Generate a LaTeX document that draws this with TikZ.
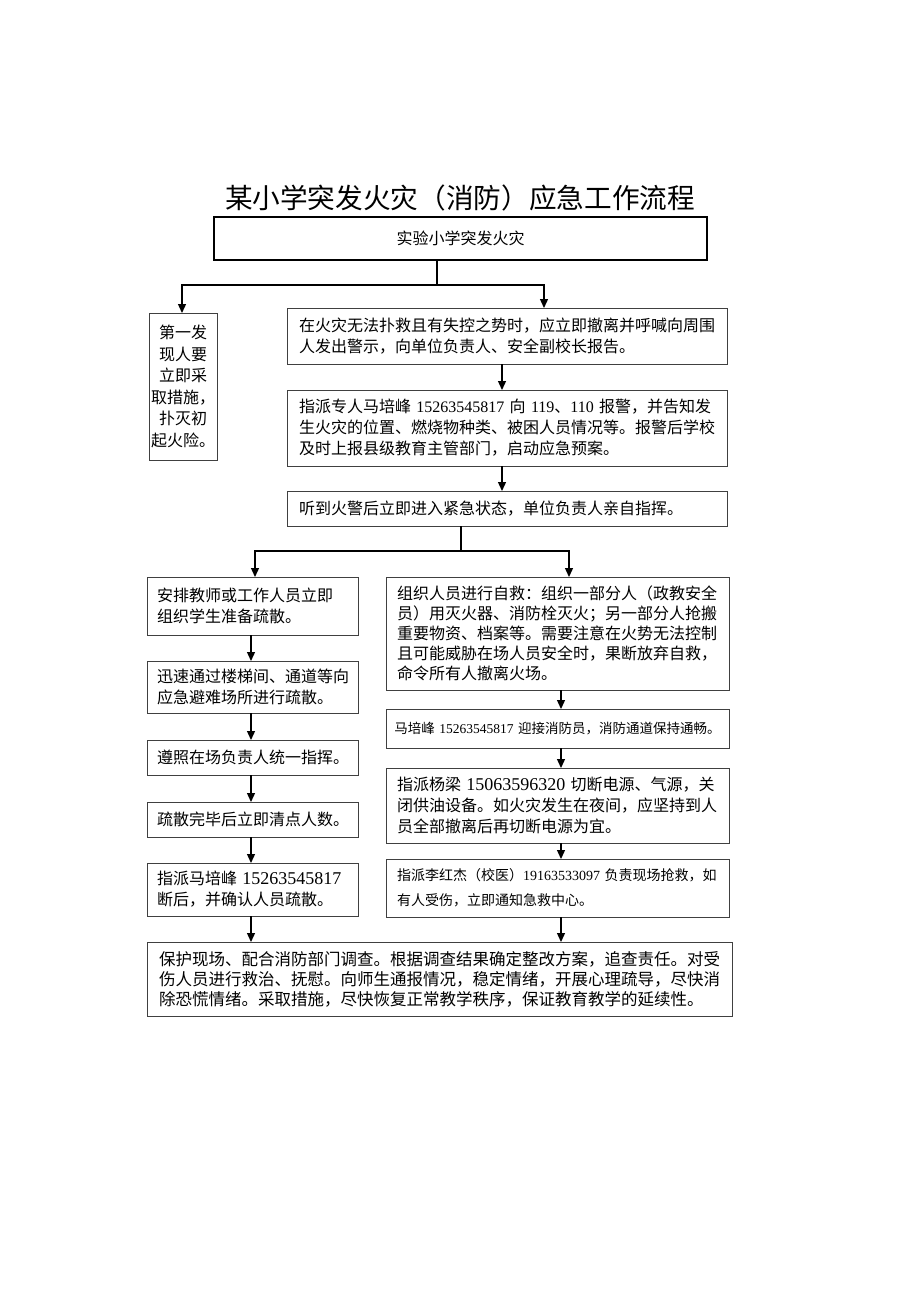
\documentclass[tikz,border=0pt]{standalone}
\usepackage{fontspec}
\setmainfont{Noto Sans CJK SC}
\newfontfamily\lat{Liberation Serif}
\usetikzlibrary{arrows.meta}
\newcommand{\nm}[1]{{\lat #1}}
\newcommand{\bnm}[1]{{\fontsize{18}{21}\selectfont\lat #1}}
\begin{document}
\begin{tikzpicture}[x=1pt,y=-1pt,
  flowbox/.style={draw=black!75, line width=0.9pt, anchor=north west, outer sep=0pt, align=left},
  arr/.style={line width=1.3pt, -{Triangle[length=9pt,width=8pt]}},
  ln/.style={line width=1.3pt}]
\useasboundingbox (0,0) rectangle (920,1301);

\node[inner sep=0pt] (title) at (460,198) {\resizebox{470pt}{!}{\fontsize{30}{32}\selectfont 某小学突发火灾（消防）应急工作流程}};

\node[flowbox, draw=black, line width=1.2pt, minimum width=493pt, minimum height=43pt, align=center, font=\fontsize{16}{20}\selectfont] (A) at (214,217) {实验小学突发火灾};

\node[flowbox, minimum width=68pt, minimum height=147pt, inner xsep=2pt, text width=64pt, align=center, font=\fontsize{16}{21.6}\selectfont] (F) at (149,313)
{第一发\\现人要\\立即采\\取措施，\\扑灭初\\起火险。};

\node[flowbox, minimum width=440pt, minimum height=56pt, inner xsep=12pt, text width=416pt, font=\fontsize{16}{21}\selectfont] (B1) at (287,308)
{在火灾无法扑救且有失控之势时，应立即撤离并呼喊向周围\\人发出警示，向单位负责人、安全副校长报告。};

\node[flowbox, minimum width=440pt, minimum height=76pt, inner xsep=12pt, text width=416pt, font=\fontsize{16}{21}\selectfont] (B2) at (287,390)
{指派专人马培峰 \nm{15263545817} 向 \nm{119}、\nm{110} 报警，并告知发\\生火灾的位置、燃烧物种类、被困人员情况等。报警后学校\\及时上报县级教育主管部门，启动应急预案。};

\node[flowbox, minimum width=440pt, minimum height=35pt, inner xsep=12pt, text width=416pt, font=\fontsize{16}{21}\selectfont] (B3) at (287,491)
{听到火警后立即进入紧急状态，单位负责人亲自指挥。};

\node[flowbox, minimum width=211pt, minimum height=58pt, inner xsep=10pt, text width=191pt, font=\fontsize{16}{21}\selectfont] (L1) at (147,577)
{安排教师或工作人员立即\\组织学生准备疏散。};
\node[flowbox, minimum width=211pt, minimum height=52pt, inner xsep=10pt, text width=191pt, font=\fontsize{16}{21}\selectfont] (L2) at (147,661)
{迅速通过楼梯间、通道等向\\应急避难场所进行疏散。};
\node[flowbox, minimum width=211pt, minimum height=35pt, inner xsep=10pt, text width=191pt, font=\fontsize{16}{21}\selectfont] (L3) at (147,740)
{遵照在场负责人统一指挥。};
\node[flowbox, minimum width=211pt, minimum height=35pt, inner xsep=10pt, text width=191pt, font=\fontsize{16}{21}\selectfont] (L4) at (147,802)
{疏散完毕后立即清点人数。};
\node[flowbox, minimum width=211pt, minimum height=53pt, inner xsep=10pt, text width=191pt, font=\fontsize{16}{21}\selectfont] (L5) at (147,863)
{指派马培峰 \bnm{15263545817}\\断后，并确认人员疏散。};

\node[flowbox, minimum width=343pt, minimum height=113pt, inner xsep=11pt, text width=321pt, font=\fontsize{16}{20}\selectfont] (R1) at (386,577)
{组织人员进行自救：组织一部分人（政教安全\\员）用灭火器、消防栓灭火；另一部分人抢搬\\重要物资、档案等。需要注意在火势无法控制\\且可能威胁在场人员安全时，果断放弃自救，\\命令所有人撤离火场。};
\node[flowbox, minimum width=343pt, minimum height=39pt, inner xsep=5pt, text width=333pt, align=center, font=\fontsize{13.5}{18}\selectfont] (R2) at (386,709)
{马培峰 \nm{15263545817} 迎接消防员，消防通道保持通畅。};
\node[flowbox, minimum width=343pt, minimum height=75pt, inner xsep=11pt, text width=321pt, font=\fontsize{16}{21}\selectfont] (R3) at (386,768)
{指派杨梁 \bnm{15063596320} 切断电源、气源，关\\闭供油设备。如火灾发生在夜间，应坚持到人\\员全部撤离后再切断电源为宜。};
\node[flowbox, minimum width=343pt, minimum height=58pt, inner xsep=11pt, text width=321pt, font=\fontsize{14}{25}\selectfont] (R4) at (386,859)
{指派李红杰（校医）\nm{19163533097} 负责现场抢救，如\\有人受伤，立即通知急救中心。};

\node[flowbox, minimum width=585pt, minimum height=74pt, inner xsep=12pt, text width=561pt, font=\fontsize{16.5}{20}\selectfont] (Z) at (147,942)
{保护现场、配合消防部门调查。根据调查结果确定整改方案，追查责任。对受\\伤人员进行救治、抚慰。向师生通报情况，稳定情绪，开展心理疏导，尽快消\\除恐慌情绪。采取措施，尽快恢复正常教学秩序，保证教育教学的延续性。};

% junction coordinates
\coordinate (s1) at (437,285);
\coordinate (s1l) at (182,285);
\coordinate (s1r) at (544,285);
\coordinate (xb) at (502,0);
\coordinate (s2) at (461,551);
\coordinate (s2l) at (255,551);
\coordinate (s2r) at (569,551);
\coordinate (xl) at (251,0);
\coordinate (xr) at (561,0);

\draw[ln] (A.south -| s1) -- (s1);
\draw[arr] (s1) -- (s1l) -- (F.north -| s1l);
\draw[arr] (s1) -- (s1r) -- (B1.north -| s1r);
\draw[arr] (B1.south -| xb) -- (B2.north -| xb);
\draw[arr] (B2.south -| xb) -- (B3.north -| xb);
\draw[ln] (B3.south -| s2) -- (s2);
\draw[arr] (s2) -- (s2l) -- (L1.north -| s2l);
\draw[arr] (s2) -- (s2r) -- (R1.north -| s2r);
\draw[arr] (L1.south -| xl) -- (L2.north -| xl);
\draw[arr] (L2.south -| xl) -- (L3.north -| xl);
\draw[arr] (L3.south -| xl) -- (L4.north -| xl);
\draw[arr] (L4.south -| xl) -- (L5.north -| xl);
\draw[arr] (L5.south -| xl) -- (Z.north -| xl);
\draw[arr] (R1.south -| xr) -- (R2.north -| xr);
\draw[arr] (R2.south -| xr) -- (R3.north -| xr);
\draw[arr] (R3.south -| xr) -- (R4.north -| xr);
\draw[arr] (R4.south -| xr) -- (Z.north -| xr);
\end{tikzpicture}
\end{document}
